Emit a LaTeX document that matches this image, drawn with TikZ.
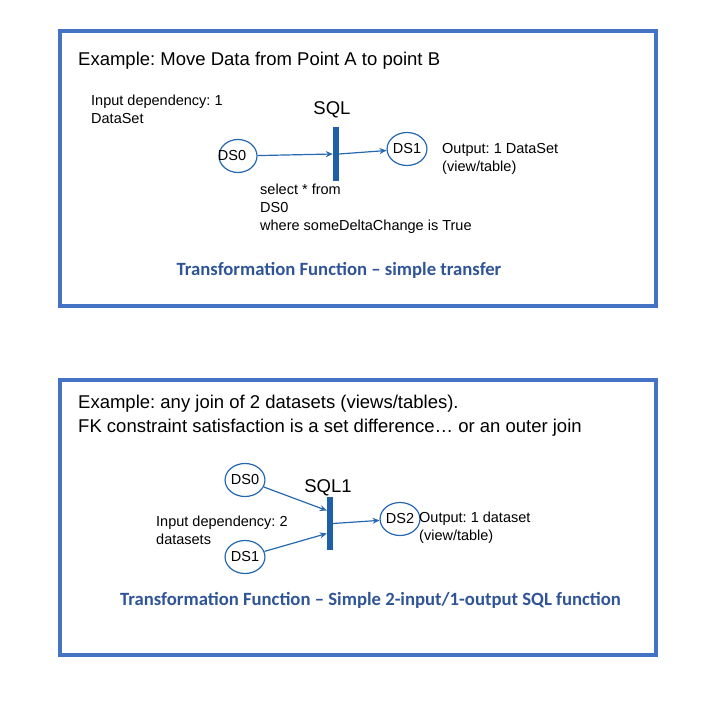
\documentclass[tikz,border=0pt]{standalone}
\usepackage{fontspec}
\setmainfont{Liberation Sans}
\newfontfamily\capfont{Carlito}
\frenchspacing
\usetikzlibrary{shapes.geometric,arrows.meta}
\definecolor{boxblue}{RGB}{68,114,196}
\definecolor{flowblue}{RGB}{38,104,176}
\definecolor{barblue}{RGB}{30,96,168}
\definecolor{capblue}{RGB}{47,85,151}
\begin{document}
\begin{tikzpicture}[x=1pt, y=-1pt,
    frame/.style={draw=boxblue, line width=3.2pt},
    small/.style={font=\fontsize{14.5}{18}\selectfont, inner sep=0, align=left},
    big/.style={font=\fontsize{18.5}{24}\selectfont, inner sep=0, align=left},
    caption/.style={font=\capfont\bfseries\fontsize{18.7}{22}\selectfont, text=capblue, inner sep=0},
    dsnode/.style={ellipse, draw=flowblue, line width=1.2pt, minimum width=38pt, minimum height=33pt, inner sep=0, font=\fontsize{14.5}{18}\selectfont},
    sqlbar/.style={rectangle, fill=barblue, minimum width=6pt, inner sep=0},
    flow/.style={draw=flowblue, line width=1.2pt, -{Stealth[length=7pt, width=6pt]}}]
  \useasboundingbox (0,0) rectangle (723,708);

  % simple transfer
  \draw[frame] (60,31) rectangle (656,306);
  \node[big, anchor=west] (ex1) at (78,61) {Example: Move Data from Point A to point B};
  \node[small, anchor=west] (dep1) at (91,109) {Input dependency: 1\\DataSet};
  \node[big] (sqltxt) at (332,110) {SQL};
  \node[sqlbar, minimum height=54pt] (sql) at (336,154) {};
  \node[dsnode, label={[xshift=-6pt, font=\fontsize{14.5}{18}\selectfont]center:DS0}] (ds0) at (238,156) {};
  \node[dsnode] (ds1) at (407,149) {DS1};
  \node[small, anchor=west] (out1) at (442,158.5) {Output: 1 DataSet\\(view/table)};
  \node[small, anchor=west] (query) at (260,209) {select * from\\DS0\\where someDeltaChange is True};
  \node[caption] (cap1) at (339,270) {Transformation Function – simple transfer};

  \draw[flow] (ds0) -- (sql.west);
  \draw[flow] (sql.east) -- (ds1);

  % join of two inputs
  \draw[frame] (60,380) rectangle (656,655);
  \node[big, anchor=west] (ex2) at (78,415.5) {Example: any join of 2 datasets (views/tables).\\FK constraint satisfaction is a set difference… or an outer join};
  \node[dsnode] (in0) at (245,480) {DS0};
  \node[dsnode] (in1) at (245,557) {DS1};
  \node[big] (sqlonetxt) at (328,488) {SQL1};
  \node[sqlbar, minimum height=53pt] (sqlone) at (330,523.5) {};
  \node[dsnode] (ds2) at (400,519) {DS2};
  \node[small, anchor=west] (dep2) at (156,530) {Input dependency: 2\\datasets};
  \node[small, anchor=west] (out2) at (419,528) {Output: 1 dataset\\(view/table)};
  \node[caption] (cap2) at (370.5,600) {Transformation Function – Simple 2-input/1-output SQL function};

  \draw[flow] (in0) -- ([yshift=13pt]sqlone.west);
  \draw[flow] (in1) -- ([yshift=-10pt]sqlone.west);
  \draw[flow] (sqlone.east) -- (ds2);
\end{tikzpicture}
\end{document}
